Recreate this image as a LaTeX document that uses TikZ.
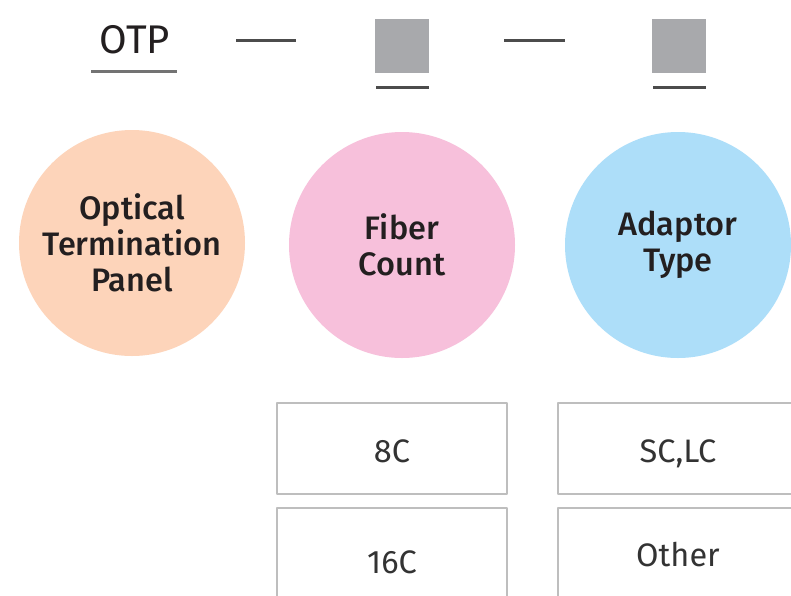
\documentclass[tikz,border=0pt]{standalone}
\usepackage{fontspec}
\setmainfont{Fira Sans}
\newfontfamily\mediumfont{Fira Sans Medium}
\usetikzlibrary{positioning}

\definecolor{peach}{HTML}{FDD4BA}
\definecolor{pinky}{HTML}{F7C0DB}
\definecolor{skyblue}{HTML}{ADDEF9}
\definecolor{squaregrey}{HTML}{A8A9AC}
\definecolor{inkgrey}{HTML}{231F20}
\definecolor{boxline}{HTML}{BEBEBE}

\tikzset{
  label font/.style={font=\fontsize{32.5}{36}\selectfont, text=inkgrey},
  bubble/.style={circle, minimum size=226pt, inner sep=0pt, align=center, label font, font=\mediumfont\fontsize{32.5}{36}\selectfont},
  choice/.style={draw=boxline, line width=2pt, minimum width=230pt, minimum height=91pt, inner sep=0pt, label font, text=black!80, text depth=0pt},
  codesq/.style={fill=squaregrey, minimum size=54pt, inner sep=0pt},
  rule/.style={line width=3pt, draw=black!65},
}

\begin{document}
\begin{tikzpicture}[x=1pt, y=-1pt, line join=round]
\useasboundingbox (0,0) rectangle (791,595);
\clip (0,0) rectangle (791,595);
\fill[white] (0,0) rectangle (791,595);
% code line on top
\node[label font, font=\fontsize{40}{44}\selectfont, anchor=base] (otp) at (135,53) {OTP};
\coordinate (otpl) at (91,71);
\coordinate (otpr) at (177,71);
\draw[rule, draw=black!55] (otpl) -- (otpr);
\coordinate (dashAl) at (236,40);
\coordinate (dashAr) at (296,40);
\draw[rule, draw=black!70] (dashAl) -- (dashAr);
\node[codesq] (sqA) at (402,45.5) {};
\coordinate (sqAl) at (376,87);
\coordinate (sqAr) at (429,87);
\draw[rule, draw=black!70] (sqAl) -- (sqAr);
\coordinate (dashBl) at (504,40);
\coordinate (dashBr) at (565,40);
\draw[rule, draw=black!70] (dashBl) -- (dashBr);
\node[codesq] (sqB) at (679,45.5) {};
\coordinate (sqBl) at (653,87);
\coordinate (sqBr) at (706,87);
\draw[rule, draw=black!70] (sqBl) -- (sqBr);
% circles
\node[bubble, fill=peach] (otpc) at (132,243) {Optical\\Termination\\Panel};
\node[bubble, fill=pinky] (fiber) at (402,245) {Fiber\\Count};
\node[bubble, fill=skyblue] (adaptor) at (678,245) {Adaptor\\Type};
% choices
\node[choice, text height=27pt] (c8) at (392,448.5) {8C};
\node[choice, text height=39pt] (c16) at (392,553.5) {16C};
\node[choice, text height=27pt, minimum width=240pt] (sclc) at (678,448.5) {SC,LC};
\node[choice, text height=25pt, minimum width=240pt] (other) at (678,553.5) {Other};
\end{tikzpicture}
\end{document}
